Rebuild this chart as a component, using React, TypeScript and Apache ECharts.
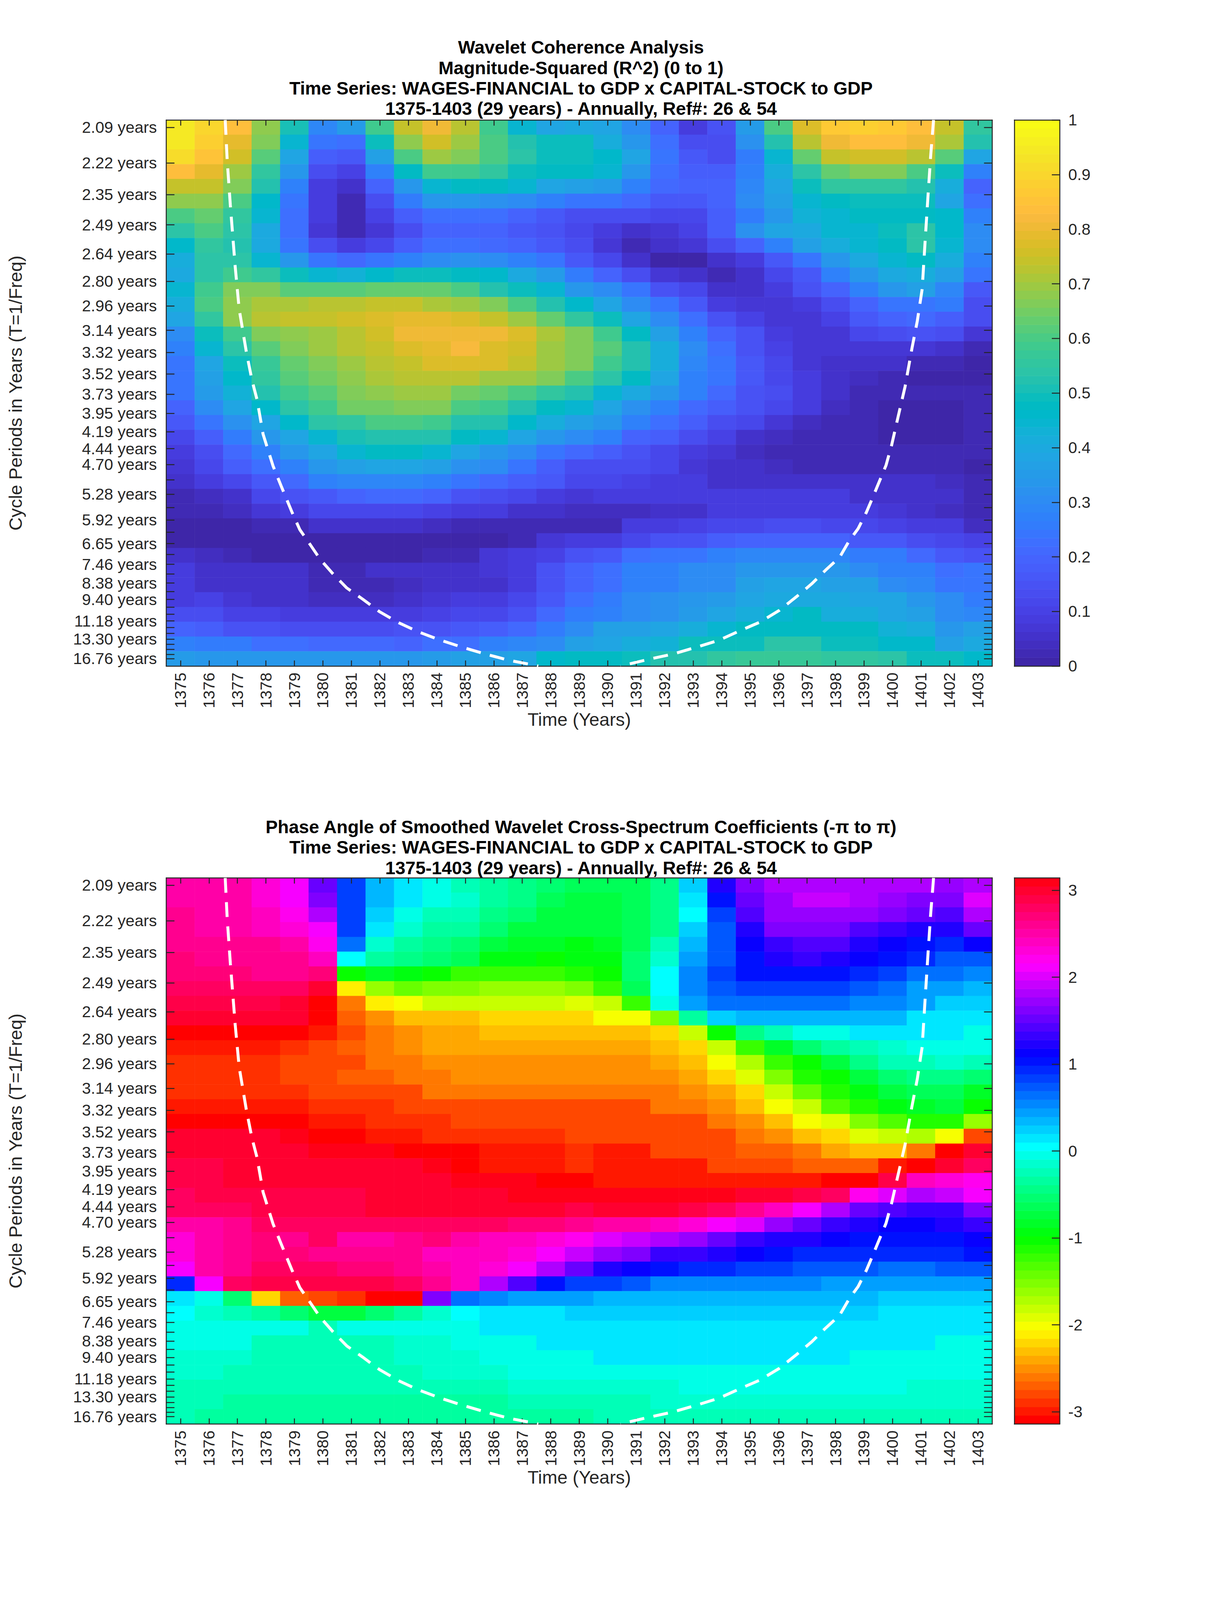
import React, { useEffect, useRef } from "react";
import * as echarts from "echarts";

const years = Array.from({ length: 29 }, (_, i) => String(1375 + i));
const periods = [2.09, 2.22, 2.35, 2.49, 2.64, 2.8, 2.96, 3.14, 3.32, 3.52, 3.73, 3.95, 4.19, 4.44, 4.7, 4.98, 5.28, 5.59, 5.92, 6.27, 6.65, 7.05, 7.46, 7.91, 8.38, 8.88, 9.4, 9.96, 10.55, 11.18, 11.85, 12.55, 13.3, 14.09, 14.93, 15.82, 16.76];
const labeledPeriods = [2.09, 2.22, 2.35, 2.49, 2.64, 2.8, 2.96, 3.14, 3.32, 3.52, 3.73, 3.95, 4.19, 4.44, 4.7, 5.28, 5.92, 6.65, 7.46, 8.38, 9.4, 11.18, 13.3, 16.76];

const coiLeftYears = [1376.57, 1376.64, 1376.75, 1376.92, 1377.06, 1377.31, 1377.51, 1377.69, 1377.9, 1378.25, 1378.53, 1378.92, 1379.19, 1379.55, 1379.9, 1380.35, 1380.84, 1381.39, 1381.99, 1382.66, 1383.35, 1384.1, 1384.9, 1385.71, 1386.52, 1387.36, 1387.56];
const coiLeftPeriods = [2.065, 2.211, 2.397, 2.712, 2.983, 3.314, 3.582, 3.793, 4.227, 4.726, 5.101, 5.718, 6.197, 6.678, 7.237, 7.895, 8.665, 9.37, 10.34, 11.36, 12.37, 13.42, 14.56, 15.79, 17.1, 18.23, 18.57];
const coiRightYears = [1401.44, 1401.34, 1401.25, 1401.15, 1401.04, 1400.87, 1400.68, 1400.44, 1400.18, 1399.97, 1399.77, 1399.3, 1399.08, 1398.79, 1398.48, 1398.14, 1397.65, 1397.16, 1396.63, 1396.03, 1395.35, 1394.64, 1393.9, 1393.12, 1392.3, 1391.51, 1390.66, 1390.45];
const coiRightPeriods = [2.065, 2.191, 2.346, 2.557, 2.849, 3.068, 3.288, 3.648, 4.018, 4.382, 4.716, 5.36, 5.715, 6.167, 6.55, 7.165, 7.723, 8.428, 9.205, 10.22, 11.29, 12.24, 13.48, 14.54, 15.77, 16.79, 18.16, 18.57];

// Rows run from the 2.09-year period down to 16.76 years; columns from 1375 to 1403.
const coherence = [
  [.94,.90,.83,.68,.51,.29,.35,.58,.75,.80,.72,.58,.45,.39,.40,.38,.31,.20,.09,.15,.35,.60,.77,.86,.89,.87,.84,.75,.55],
  [.94,.88,.79,.66,.44,.24,.23,.49,.68,.76,.70,.60,.53,.50,.50,.42,.34,.23,.13,.13,.32,.53,.72,.81,.84,.84,.80,.71,.52],
  [.91,.85,.76,.62,.38,.18,.16,.37,.60,.69,.66,.60,.54,.50,.50,.46,.38,.24,.17,.14,.26,.45,.63,.74,.76,.76,.72,.61,.39],
  [.84,.79,.70,.55,.33,.13,.10,.27,.48,.58,.58,.55,.50,.48,.47,.44,.33,.23,.18,.18,.28,.42,.54,.64,.66,.66,.60,.49,.27],
  [.75,.74,.66,.53,.28,.09,.06,.20,.33,.45,.48,.47,.45,.39,.36,.35,.27,.21,.19,.20,.29,.38,.49,.55,.55,.55,.52,.42,.20],
  [.68,.68,.60,.46,.25,.08,.03,.13,.26,.33,.33,.32,.31,.27,.25,.24,.21,.17,.16,.20,.30,.37,.45,.47,.50,.50,.49,.38,.22],
  [.60,.64,.56,.44,.22,.08,.02,.10,.18,.22,.22,.22,.20,.17,.14,.13,.13,.11,.11,.18,.26,.34,.43,.45,.47,.47,.48,.46,.27],
  [.54,.60,.54,.40,.23,.07,.03,.07,.14,.20,.19,.19,.17,.15,.11,.08,.06,.07,.10,.18,.32,.38,.40,.44,.45,.50,.54,.46,.31],
  [.46,.55,.53,.40,.25,.13,.08,.11,.18,.23,.22,.21,.19,.17,.13,.07,.03,.05,.07,.14,.20,.28,.36,.41,.45,.48,.54,.45,.31],
  [.42,.54,.54,.45,.33,.24,.21,.24,.27,.31,.32,.31,.27,.24,.16,.12,.06,.01,.01,.06,.09,.17,.25,.33,.40,.45,.48,.42,.28],
  [.40,.54,.58,.56,.50,.44,.43,.46,.49,.49,.47,.46,.40,.35,.26,.20,.14,.07,.05,.02,.06,.12,.17,.27,.34,.40,.42,.37,.24],
  [.45,.58,.66,.66,.62,.62,.62,.63,.63,.63,.60,.53,.50,.44,.33,.30,.24,.15,.11,.06,.06,.09,.15,.20,.28,.33,.36,.29,.17],
  [.42,.60,.68,.71,.71,.72,.73,.74,.74,.71,.70,.66,.60,.52,.46,.38,.31,.25,.17,.09,.07,.07,.09,.14,.20,.24,.25,.26,.13],
  [.38,.55,.68,.72,.74,.75,.76,.78,.79,.79,.77,.74,.70,.63,.56,.50,.38,.31,.23,.15,.10,.07,.07,.10,.16,.20,.21,.18,.13],
  [.30,.49,.59,.66,.68,.70,.73,.76,.81,.81,.81,.81,.77,.71,.66,.58,.48,.37,.28,.20,.15,.08,.07,.07,.11,.14,.15,.13,.07],
  [.27,.44,.54,.62,.66,.69,.72,.74,.77,.79,.82,.78,.76,.70,.67,.62,.53,.42,.31,.23,.15,.10,.07,.07,.07,.07,.07,.06,.02],
  [.25,.38,.50,.57,.64,.67,.70,.72,.75,.77,.77,.77,.74,.70,.66,.58,.53,.41,.29,.24,.17,.11,.07,.05,.05,.05,.02,.02,.00],
  [.25,.37,.46,.55,.62,.65,.68,.71,.72,.72,.72,.70,.69,.66,.60,.54,.47,.39,.28,.24,.17,.12,.08,.05,.04,.02,.01,.01,.01],
  [.25,.35,.43,.53,.59,.62,.66,.68,.69,.69,.65,.63,.60,.55,.53,.45,.40,.34,.27,.21,.15,.13,.08,.05,.02,.02,.02,.02,.03],
  [.19,.31,.38,.46,.54,.59,.65,.65,.66,.66,.60,.58,.53,.48,.45,.38,.32,.28,.21,.18,.15,.12,.08,.04,.03,.01,.01,.01,.02],
  [.16,.24,.32,.39,.46,.54,.56,.60,.60,.58,.53,.52,.46,.41,.36,.33,.28,.22,.18,.14,.11,.07,.04,.03,.02,.01,.01,.01,.02],
  [.11,.18,.26,.33,.39,.45,.51,.53,.53,.53,.47,.45,.38,.33,.30,.27,.20,.18,.13,.10,.06,.04,.03,.02,.02,.01,.01,.01,.02],
  [.09,.14,.21,.27,.33,.38,.45,.47,.47,.45,.38,.33,.30,.25,.21,.18,.15,.11,.08,.07,.04,.02,.02,.02,.02,.02,.02,.02,.02],
  [.07,.12,.18,.22,.27,.33,.37,.38,.38,.37,.32,.30,.24,.18,.14,.14,.13,.11,.07,.05,.05,.04,.03,.03,.03,.03,.03,.03,.01],
  [.05,.09,.12,.17,.21,.27,.29,.29,.29,.28,.24,.21,.18,.16,.12,.12,.10,.08,.08,.06,.06,.06,.06,.06,.05,.05,.05,.04,.02],
  [.03,.04,.06,.11,.15,.17,.20,.21,.21,.20,.15,.14,.12,.09,.07,.08,.08,.08,.08,.08,.09,.09,.09,.09,.06,.06,.05,.05,.02],
  [.02,.03,.04,.07,.09,.11,.12,.12,.11,.10,.09,.09,.06,.05,.04,.04,.04,.06,.06,.09,.09,.09,.09,.09,.09,.07,.05,.04,.02],
  [.01,.01,.01,.03,.03,.06,.06,.06,.06,.04,.03,.02,.02,.02,.03,.03,.08,.08,.10,.12,.12,.13,.13,.12,.12,.10,.09,.08,.04],
  [.01,.01,.01,.01,.01,.01,.01,.01,.01,.01,.01,.01,.03,.07,.08,.09,.12,.15,.15,.18,.19,.19,.19,.19,.17,.16,.13,.12,.10],
  [.05,.04,.03,.01,.01,.01,.01,.01,.01,.03,.03,.07,.09,.10,.15,.17,.22,.24,.25,.28,.29,.29,.29,.29,.26,.26,.21,.17,.15],
  [.08,.06,.05,.05,.05,.03,.03,.05,.05,.05,.06,.07,.09,.15,.20,.22,.28,.28,.30,.30,.33,.33,.33,.33,.30,.28,.28,.23,.24],
  [.08,.06,.05,.05,.05,.02,.02,.02,.04,.06,.05,.06,.09,.15,.20,.22,.28,.28,.30,.31,.37,.38,.38,.37,.36,.31,.29,.25,.24],
  [.09,.10,.07,.05,.05,.04,.04,.04,.05,.07,.08,.09,.12,.17,.23,.26,.30,.32,.34,.35,.39,.40,.40,.40,.39,.38,.34,.30,.26],
  [.14,.14,.10,.10,.08,.08,.08,.08,.09,.10,.11,.12,.15,.21,.26,.28,.31,.32,.35,.39,.42,.44,.47,.42,.41,.39,.36,.31,.29],
  [.20,.18,.15,.15,.13,.13,.13,.13,.15,.15,.16,.18,.21,.26,.30,.36,.36,.39,.41,.45,.47,.47,.47,.47,.47,.43,.41,.34,.36],
  [.27,.26,.26,.23,.22,.21,.21,.21,.20,.22,.23,.27,.29,.31,.36,.39,.41,.43,.50,.50,.50,.54,.54,.50,.50,.46,.46,.37,.40],
  [.35,.33,.33,.34,.34,.34,.33,.33,.33,.35,.36,.37,.38,.46,.47,.48,.50,.52,.53,.56,.57,.57,.57,.55,.55,.54,.49,.49,.46],
];

const phase = [
  [2.5,2.5,2.5,2.28,2.09,1.57,.87,.33,.12,-.05,-.2,-.3,-.4,-.55,-.65,-.65,-.6,-.45,.22,1.18,1.65,1.85,1.85,1.85,1.85,1.8,1.8,1.68,1.85],
  [2.5,2.5,2.5,2.35,2.1,1.6,.85,.33,.1,-.05,-.15,-.3,-.45,-.6,-.7,-.7,-.65,-.45,.12,1.05,1.5,1.72,1.92,1.92,1.78,1.75,1.65,1.65,2.0],
  [2.6,2.5,2.5,2.4,2.25,1.85,.85,.22,0,-.2,-.25,-.4,-.55,-.7,-.75,-.7,-.65,-.4,.08,.82,1.38,1.68,1.75,1.75,1.75,1.65,1.5,1.45,1.8],
  [2.6,2.55,2.5,2.45,2.3,2.1,.85,.1,-.1,-.3,-.35,-.55,-.7,-.75,-.75,-.7,-.6,-.4,.23,.72,1.2,1.58,1.58,1.58,1.42,1.32,1.18,1.18,1.55],
  [2.6,2.6,2.6,2.6,2.5,2.25,.6,-.1,-.3,-.45,-.55,-.7,-.8,-.85,-.9,-.85,-.6,-.25,.35,.7,1.1,1.3,1.45,1.45,1.22,1.15,1.07,.95,1.1],
  [2.7,2.6,2.6,2.6,2.6,2.4,.05,-.3,-.45,-.55,-.65,-.95,-.98,-1.0,-.95,-.95,-.55,-.1,.45,.75,1.05,1.2,1.3,1.2,1.1,1.05,.95,.75,.72],
  [2.7,2.7,2.7,2.65,2.65,2.7,-1.05,-.85,-.95,-1.05,-1.2,-1.25,-1.25,-1.25,-1.15,-1.0,-.55,.08,.55,.8,1.0,1.0,1.0,1.0,.97,.85,.68,.62,.52],
  [2.75,2.75,2.75,2.75,2.75,2.95,-2.1,-1.65,-1.4,-1.5,-1.55,-1.6,-1.6,-1.6,-1.5,-1.25,-.6,.05,.55,.75,.85,.85,.85,.85,.72,.62,.45,.4,.38],
  [2.9,2.9,2.9,2.9,3.0,-3.14,-2.6,-2.1,-2.05,-1.85,-1.85,-1.85,-1.85,-1.85,-1.9,-1.8,-1.2,0,.42,.6,.6,.6,.6,.6,.5,.5,.4,.28,.25],
  [2.95,2.95,2.95,2.95,3.0,-3.1,-2.7,-2.55,-2.3,-2.3,-2.3,-2.2,-2.2,-2.2,-2.2,-2.05,-2.05,-1.55,-.3,.2,.3,.3,.3,.3,.3,.3,.17,.17,.17],
  [-3.1,-3.1,-3.14,-3.14,-3.05,-2.95,-2.75,-2.6,-2.5,-2.4,-2.4,-2.35,-2.35,-2.35,-2.35,-2.35,-2.35,-2.2,-1.85,-1.05,-.45,-.25,-.05,0,.12,.12,.12,.12,0],
  [-3.0,-3.0,-3.0,-3.0,-2.9,-2.8,-2.7,-2.65,-2.55,-2.45,-2.45,-2.45,-2.45,-2.4,-2.4,-2.45,-2.45,-2.35,-2.2,-1.85,-1.25,-.85,-.55,-.3,-.2,-.1,-.05,-.05,-.05],
  [-2.85,-2.85,-2.85,-2.85,-2.8,-2.75,-2.75,-2.65,-2.65,-2.5,-2.5,-2.5,-2.5,-2.5,-2.5,-2.5,-2.5,-2.45,-2.3,-2.05,-1.7,-1.25,-1.0,-.7,-.45,-.25,-.2,-.1,-.25],
  [-2.85,-2.85,-2.85,-2.85,-2.8,-2.8,-2.7,-2.7,-2.65,-2.65,-2.5,-2.5,-2.5,-2.5,-2.5,-2.5,-2.5,-2.5,-2.45,-2.25,-1.9,-1.5,-1.15,-1.0,-.75,-.5,-.4,-.4,-.55],
  [-2.85,-2.85,-2.85,-2.85,-2.85,-2.8,-2.8,-2.75,-2.75,-2.65,-2.65,-2.65,-2.65,-2.65,-2.65,-2.6,-2.6,-2.6,-2.55,-2.45,-2.25,-1.8,-1.45,-1.15,-.95,-.75,-.65,-.65,-.8],
  [-3.0,-3.0,-3.0,-3.0,-3.0,-2.9,-2.9,-2.85,-2.75,-2.75,-2.75,-2.75,-2.75,-2.75,-2.75,-2.75,-2.75,-2.62,-2.62,-2.5,-2.35,-2.05,-1.8,-1.35,-1.1,-.95,-.8,-.75,-1.0],
  [-3.14,-3.14,-3.14,-3.14,-3.14,-2.95,-2.95,-2.85,-2.85,-2.85,-2.8,-2.8,-2.8,-2.8,-2.8,-2.75,-2.75,-2.75,-2.75,-2.6,-2.5,-2.35,-2.0,-1.9,-1.55,-1.35,-1.1,-1.1,-1.6],
  [3.0,3.0,3.0,3.0,3.05,-3.14,-3.14,-3.0,-3.0,-2.85,-2.85,-2.85,-2.85,-2.85,-2.8,-2.8,-2.8,-2.8,-2.8,-2.75,-2.6,-2.5,-2.35,-2.25,-1.95,-1.85,-1.75,-2.05,-2.75],
  [2.95,2.95,2.95,2.95,3.0,3.05,3.05,3.14,-3.14,-3.05,-3.05,-2.95,-2.95,-2.95,-2.9,-2.95,-2.95,-2.8,-2.8,-2.8,-2.7,-2.7,-2.6,-2.45,-2.35,-2.35,-2.6,-3.05,3.0],
  [2.85,2.85,2.95,2.95,2.95,3.0,3.0,3.0,3.0,3.14,-3.14,-3.0,-3.0,-3.0,-2.9,-2.95,-2.95,-2.95,-2.95,-2.8,-2.8,-2.8,-2.7,-2.7,-2.7,-2.95,-3.14,2.95,2.75],
  [2.85,2.85,2.95,2.95,2.95,3.0,3.0,3.0,3.0,3.0,3.14,3.14,3.14,-3.05,-3.05,-3.0,-3.0,-2.95,-2.95,-2.95,-2.95,-2.95,-2.95,-3.05,-3.14,2.85,2.4,2.3,2.25],
  [2.75,2.85,2.9,2.9,2.9,2.9,2.9,3.0,3.0,3.0,3.0,3.0,3.14,3.14,3.14,3.14,3.14,3.14,3.14,3.14,3.0,3.0,2.9,2.75,2.25,2.05,1.85,1.95,2.1],
  [2.75,2.75,2.75,2.85,2.85,2.85,2.85,3.0,3.0,3.0,3.0,3.0,3.0,3.0,2.9,2.95,2.95,2.95,2.85,2.75,2.6,2.4,2.1,1.85,1.55,1.45,1.3,1.35,1.65],
  [2.5,2.55,2.6,2.75,2.75,2.75,2.75,2.75,2.75,2.75,2.75,2.75,2.7,2.7,2.6,2.5,2.5,2.4,2.3,2.1,2.0,1.75,1.5,1.3,1.18,1.15,1.15,1.25,1.3],
  [2.35,2.5,2.6,2.7,2.65,2.75,2.55,2.55,2.6,2.7,2.5,2.45,2.4,2.3,2.2,2.05,1.95,1.85,1.75,1.5,1.35,1.25,1.2,1.1,1.05,1.05,1.05,1.05,1.15],
  [2.35,2.5,2.6,2.7,2.7,2.65,2.65,2.6,2.6,2.45,2.45,2.45,2.3,2.1,1.95,1.72,1.62,1.35,1.3,1.2,1.1,1.05,.95,.9,.9,.9,.9,.9,1.0],
  [2.1,2.55,2.65,2.75,2.75,2.75,2.7,2.7,2.6,2.5,2.4,2.3,2.1,1.8,1.55,1.2,1.1,1.05,.95,.9,.8,.8,.75,.75,.75,.6,.6,.7,.7],
  [.95,2.15,2.75,2.85,2.9,2.9,2.9,2.85,2.8,2.65,2.45,1.85,1.4,1.0,.8,.8,.7,.55,.55,.55,.5,.5,.5,.4,.4,.4,.4,.4,.4],
  [.15,-.02,-.55,-2.2,-2.7,-2.8,-2.9,-3.05,-3.1,1.65,.65,.55,.4,.4,.4,.33,.33,.3,.3,.3,.3,.3,.3,.3,.3,.2,.2,.2,.2],
  [.02,-.1,-.2,-.3,-.5,-.7,-.75,-.55,-.3,-.1,.02,.15,.15,.15,.22,.22,.22,.22,.22,.22,.22,.22,.22,.2,.2,.1,.1,.1,.1],
  [0,0,-.08,-.05,-.05,-.2,-.08,-.08,-.08,0,0,.12,.12,.12,.12,.1,.1,.1,.1,.1,.1,.1,.1,.1,.1,.1,.1,.1,.1],
  [-.08,-.08,-.08,-.2,-.2,-.2,-.2,-.2,-.12,-.12,0,0,0,.1,.1,.1,.1,.1,.1,.1,.1,.1,.1,.1,.1,.1,.1,0,0],
  [-.1,-.1,-.1,-.2,-.2,-.2,-.2,-.2,-.12,-.12,-.1,0,0,0,0,.1,.1,.1,.1,.1,.1,.1,.1,.1,0,0,0,0,0],
  [-.12,-.12,-.2,-.2,-.2,-.2,-.2,-.2,-.2,-.12,-.12,-.12,0,0,0,0,0,0,0,0,0,0,0,0,0,0,0,0,0],
  [-.2,-.2,-.2,-.2,-.2,-.2,-.2,-.2,-.2,-.2,-.2,-.2,-.12,-.12,-.12,-.1,-.1,-.1,0,0,0,0,0,0,0,0,-.1,-.1,-.1],
  [-.2,-.2,-.3,-.3,-.3,-.3,-.3,-.3,-.3,-.3,-.3,-.3,-.2,-.2,-.2,-.2,-.2,-.1,-.1,-.1,-.1,-.1,-.1,-.1,-.1,-.1,-.1,-.1,-.1],
  [-.2,-.3,-.3,-.3,-.3,-.3,-.3,-.3,-.3,-.3,-.3,-.3,-.3,-.3,-.3,-.2,-.2,-.2,-.2,-.2,-.2,-.2,-.2,-.2,-.2,-.2,-.2,-.2,-.2],
];

const parula: number[][] = [
  [.2422,.1504,.6603],[.2504,.165,.7076],[.2578,.1818,.7511],[.2647,.1978,.7952],[.2706,.2147,.8364],[.2751,.2342,.871],[.2783,.2559,.8991],[.2803,.2782,.9221],
  [.2813,.3006,.9414],[.281,.3228,.9579],[.2795,.3447,.9717],[.276,.3667,.9829],[.2699,.3892,.9906],[.2602,.4123,.9952],[.244,.4358,.9988],[.2206,.4603,.9973],
  [.1963,.4847,.9892],[.1834,.5074,.9798],[.1786,.5289,.9682],[.1764,.5499,.952],[.1687,.5703,.9359],[.154,.5902,.9218],[.146,.6091,.9079],[.138,.6276,.8973],
  [.1248,.6459,.8883],[.1113,.6635,.8763],[.0952,.6798,.8598],[.0689,.6948,.8394],[.0297,.7082,.8163],[.0036,.7203,.7917],[.0067,.7312,.766],[.0433,.7411,.7394],
  [.0964,.75,.712],[.1408,.7584,.6842],[.1717,.767,.6554],[.1938,.7758,.6251],[.2161,.7843,.5923],[.247,.7918,.5567],[.2906,.7973,.5188],[.3406,.8008,.4789],
  [.3909,.8029,.4354],[.4456,.8024,.3909],[.5044,.7993,.348],[.5616,.7942,.3045],[.6174,.7876,.2612],[.672,.7793,.2227],[.7242,.7698,.191],[.7738,.7598,.1646],
  [.8203,.7498,.1535],[.8634,.7406,.1596],[.9035,.733,.1774],[.9393,.7288,.21],[.9728,.7298,.2394],[.9956,.7434,.2371],[.997,.7659,.2199],[.9952,.7893,.2028],
  [.9892,.8136,.1885],[.9786,.8386,.1766],[.9676,.8639,.1643],[.961,.889,.1537],[.9597,.9135,.1423],[.9628,.9373,.1265],[.9691,.9606,.1064],[.9769,.9839,.0805],
];
const rgb = (c: number[]) => `rgb(${Math.round(c[0] * 255)},${Math.round(c[1] * 255)},${Math.round(c[2] * 255)})`;
const parulaColors = parula.map(rgb);
const hsvColors = Array.from({ length: 64 }, (_, i) => {
  const h = (i / 64) * 6;
  const k = Math.floor(h);
  const f = h - k;
  const table = [[1, f, 0], [1 - f, 1, 0], [0, 1, f], [0, 1 - f, 1], [f, 0, 1], [1, 0, 1 - f]];
  return rgb(table[k]);
});

const INK = "#262626";
const FONT = "Liberation Sans";
const PI = Math.PI;
const FULL_HEIGHT = 6252;

const plotLeft = 425.5;
const plotWidth = 2114;
const barLeft = 2596;
const barWidth = 116;
const titleCenter = 1482;

const freqTop = 1 / periods[0];
const freqBottom = 1 / periods[periods.length - 1];
const halfRow = (freqTop - freqBottom) / (2 * (periods.length - 1));
const yMax = freqTop + halfRow;
const yMin = freqBottom - halfRow;
const freqValues = periods.map((p) => 1 / p);
const freqLabels = labeledPeriods.map((p) => 1 / p);
const periodText = (v: number) => {
  let best = periods[0];
  periods.forEach((p) => {
    if (Math.abs(1 / p - v) < Math.abs(1 / best - v)) best = p;
  });
  return `${best.toFixed(2)} years`;
};

const line = { show: true, onZero: false, lineStyle: { color: INK, width: 2.5 } };
const tick = (length: number, extra = {}) => ({ show: true, inside: true, length, lineStyle: { color: INK, width: 2.5 }, ...extra });

function buildOption(sy: number) {
  // sy: vertical layout scale (1 at the full 6252-high window); fs: font scale.
  const fs = sy + (1 - sy) * 0.19;
  const tickFont = 57 * fs;
  const nameFont = 65 * fs;
  const titleFont = 64.5 * fs;
  const titleLine = 80 * sy;
  const plotHeight = 2134 * sy;

  const grid: any[] = [];
  const xAxis: any[] = [];
  const yAxis: any[] = [];
  const series: any[] = [];
  const visualMap: any[] = [];

  const addPanel = (top: number, rows: number[][], colors: string[], min: number, max: number, barTicks: number[], barText: (v: number) => string) => {
    const g = grid.length;
    grid.push({ left: plotLeft, top, width: plotWidth, height: plotHeight, containLabel: false });
    const xBase = xAxis.length;
    const yBase = yAxis.length;
    xAxis.push(
      {
        gridIndex: g, type: "category", position: "bottom", data: years, z: 10,
        axisLine: line, axisTick: tick(22 * sy, { alignWithLabel: true }),
        axisLabel: { show: true, interval: 0, rotate: 90, margin: 25 * sy, fontSize: tickFont, color: INK, fontFamily: FONT },
        name: "Time (Years)", nameLocation: "middle", nameGap: 199 * sy - nameFont * 0.37, nameTextStyle: { fontSize: nameFont, color: INK, fontFamily: FONT },
        splitLine: { show: false },
      },
      { gridIndex: g, type: "value", show: false, min: 1374.5, max: 1403.5, splitLine: { show: false } },
      {
        gridIndex: g, type: "category", position: "top", data: years, z: 10,
        axisLine: line, axisTick: tick(22 * sy, { alignWithLabel: true }), axisLabel: { show: false }, splitLine: { show: false },
      }
    );
    yAxis.push(
      { gridIndex: g, type: "category", show: false, inverse: true, data: periods.map(String) },
      {
        gridIndex: g, type: "value", position: "left", min: yMin, max: yMax, z: 10,
        axisLine: line, axisTick: tick(21, { customValues: freqValues }),
        axisLabel: { show: true, customValues: freqLabels, margin: 24, fontSize: tickFont, color: INK, fontFamily: FONT, formatter: periodText },
        splitLine: { show: false },
        name: "Cycle Periods in Years (T=1/Freq)", nameLocation: "middle", nameGap: 379 - nameFont * 0.37, nameRotate: 90,
        nameTextStyle: { fontSize: nameFont, color: INK, fontFamily: FONT },
      },
      {
        gridIndex: g, type: "value", position: "right", min: yMin, max: yMax, z: 10,
        axisLine: line, axisTick: tick(21, { customValues: freqValues }), axisLabel: { show: false }, splitLine: { show: false },
      }
    );
    const mapSeries: number[] = [series.length];
    const cells: number[][] = [];
    rows.forEach((row, r) => row.forEach((v, c) => cells.push([c, r, v])));
    series.push({ type: "heatmap", xAxisIndex: xBase, yAxisIndex: yBase, data: cells, progressive: 0, itemStyle: { borderWidth: 0 }, z: 2 });
    const coi = (xs: number[], ps: number[]) => ({
      type: "line", xAxisIndex: xBase + 1, yAxisIndex: yBase + 1, showSymbol: false, symbol: "none", z: 20,
      data: xs.map((x, i) => [x, 1 / ps[i]]),
      lineStyle: { color: "#ffffff", width: 7.5, type: [38, 24] },
    });
    series.push(coi(coiLeftYears, coiLeftPeriods), coi(coiRightYears, coiRightPeriods));

    // colour bar
    const bg = grid.length;
    grid.push({ left: barLeft, top, width: barWidth, height: plotHeight });
    const bx = xAxis.length;
    const by = yAxis.length;
    xAxis.push(
      { gridIndex: bg, type: "category", position: "bottom", data: [""], z: 10, axisLine: line, axisTick: { show: false }, axisLabel: { show: false } },
      { gridIndex: bg, type: "category", position: "top", data: [""], z: 10, axisLine: line, axisTick: { show: false }, axisLabel: { show: false } }
    );
    const levels = colors.map((_, i) => min + ((i + 0.5) * (max - min)) / colors.length);
    yAxis.push(
      { gridIndex: bg, type: "category", show: false, data: levels.map((_, i) => String(i)) },
      {
        gridIndex: bg, type: "value", position: "right", min, max, z: 10,
        axisLine: line, axisTick: tick(20, { customValues: barTicks }),
        axisLabel: { show: true, customValues: barTicks, margin: 22, fontSize: tickFont, color: INK, fontFamily: FONT, formatter: barText },
        splitLine: { show: false },
      },
      { gridIndex: bg, type: "value", position: "left", min, max, z: 10, axisLine: line, axisTick: { show: false }, axisLabel: { show: false }, splitLine: { show: false } }
    );
    mapSeries.push(series.length);
    series.push({ type: "heatmap", xAxisIndex: bx, yAxisIndex: by, data: levels.map((v, i) => [0, i, v]), progressive: 0, itemStyle: { borderWidth: 0 }, z: 2 });

    const step = (max - min) / colors.length;
    visualMap.push({
      type: "piecewise", show: false, seriesIndex: mapSeries, dimension: 2,
      pieces: colors.map((color, i) => ({ min: i === 0 ? min - 1 : min + i * step, max: i === colors.length - 1 ? max + 1 : min + (i + 1) * step, color })),
    });
  };

  addPanel(468.8 * sy, coherence, parulaColors, 0, 1, [0, .1, .2, .3, .4, .5, .6, .7, .8, .9, 1], (v) => String(v));
  addPanel(3430.5 * sy, phase, hsvColors, -PI, PI, [-3, -2, -1, 0, 1, 2, 3], (v) => String(v));

  const titleStyle = { fontSize: titleFont, fontWeight: "bold", color: "#000000", fontFamily: FONT, lineHeight: titleLine };
  return {
    animation: false,
    backgroundColor: "#ffffff",
    textStyle: { fontFamily: FONT },
    title: [
      {
        text: "Wavelet Coherence Analysis\nMagnitude-Squared (R^2) (0 to 1)\nTime Series: WAGES-FINANCIAL to GDP x CAPITAL-STOCK to GDP\n1375-1403 (29 years) - Annually, Ref#: 26 & 54",
        left: titleCenter, top: 145 * sy - 5, textAlign: "center", textStyle: titleStyle,
      },
      {
        text: "Phase Angle of Smoothed Wavelet Cross-Spectrum Coefficients (-π to π)\nTime Series: WAGES-FINANCIAL to GDP x CAPITAL-STOCK to GDP\n1375-1403 (29 years) - Annually, Ref#: 26 & 54",
        left: titleCenter, top: 3191 * sy - 5, textAlign: "center", textStyle: titleStyle,
      },
    ],
    grid, xAxis, yAxis, series, visualMap,
  };
}

export default function App() {
  const ref = useRef<HTMLDivElement>(null);
  const height = Math.min(FULL_HEIGHT, window.innerHeight || FULL_HEIGHT);
  useEffect(() => {
    const chart = echarts.init(ref.current as HTMLDivElement, undefined, { renderer: "svg" });
    chart.setOption(buildOption(height / FULL_HEIGHT) as any);
    return () => chart.dispose();
  }, [height]);
  return <div ref={ref} style={{ position: "absolute", left: 0, top: 0, width: 3125, height }} />;
}
